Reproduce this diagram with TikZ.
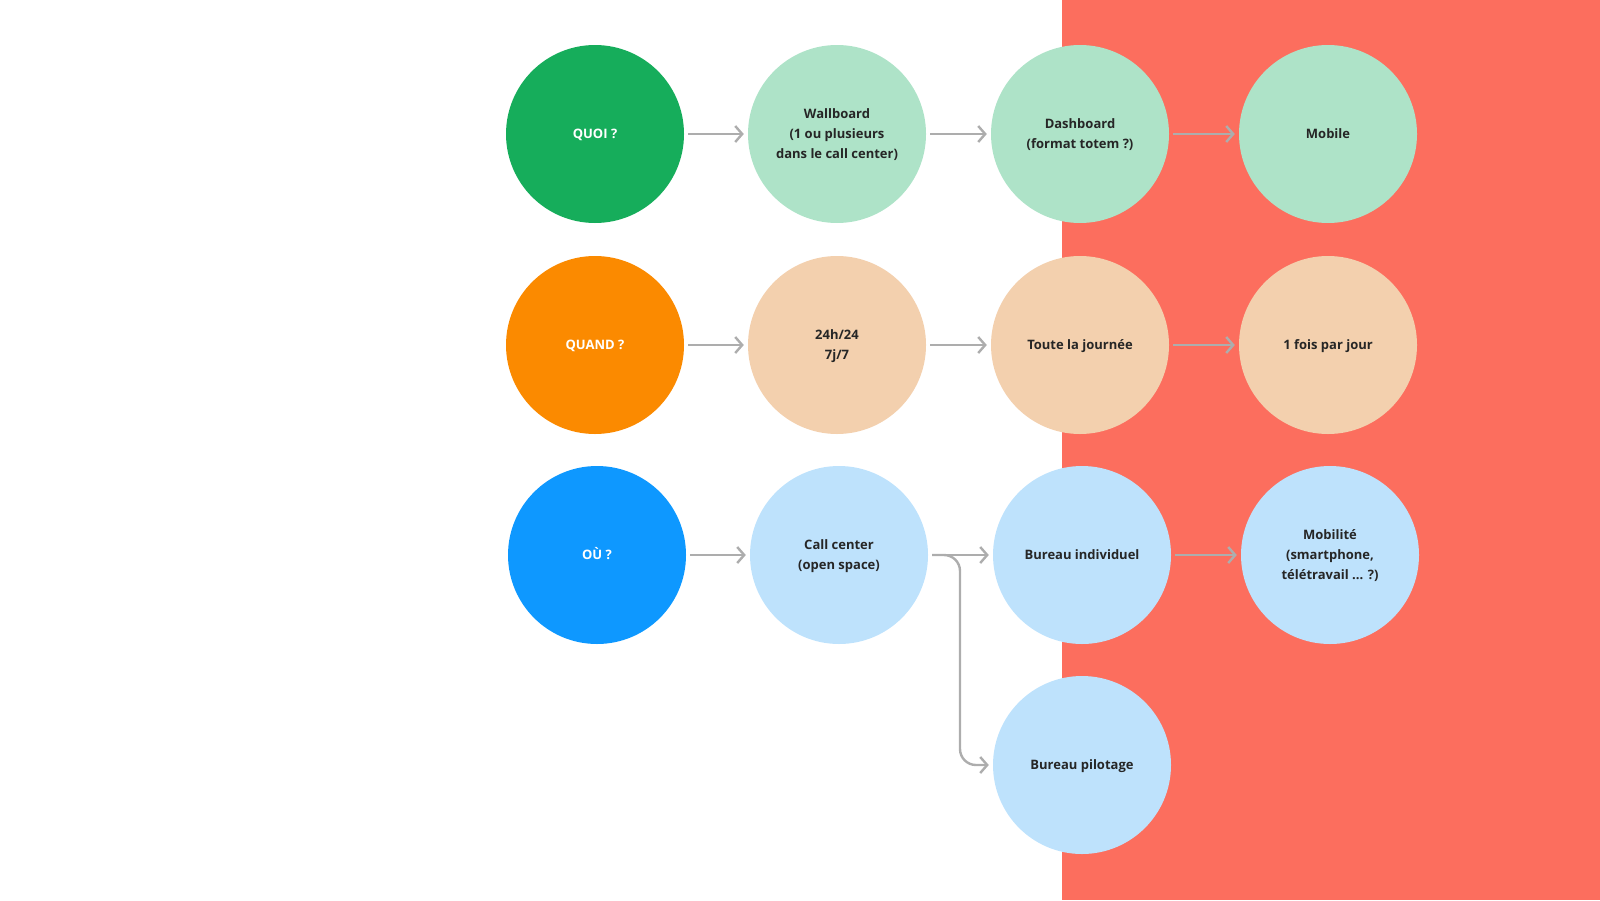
\documentclass[tikz,border=0pt]{standalone}
\usepackage{fontspec}
\setmainfont{Open Sans}
\usetikzlibrary{arrows.meta}
\definecolor{bgred}{HTML}{FC6E5E}
\definecolor{dgreen}{HTML}{16AD5B}
\definecolor{lgreen}{HTML}{AEE3C8}
\definecolor{dorange}{HTML}{FB8A00}
\definecolor{lpeach}{HTML}{F3D0AE}
\definecolor{dblue}{HTML}{0E98FF}
\definecolor{lblue}{HTML}{BEE2FC}
\definecolor{txt}{HTML}{262626}
\definecolor{arrgray}{HTML}{ADADAD}
\tikzset{
  x=1pt, y=-1pt,
  bubble/.style={circle, minimum size=178pt, inner sep=0pt, align=center,
    font=\fontsize{13}{20}\selectfont\bfseries, text=txt},
  headbubble/.style={bubble, text=white},
  arr/.style={draw=arrgray, line width=2.4pt, shorten <=4pt, shorten >=4pt,
    -{Straight Barb[length=7pt,width=16pt,line width=2.4pt]}},
}
\newcommand{\dn}[1]{\raisebox{-2pt}{\begin{tabular}{@{}c@{}}#1\end{tabular}}}
\begin{document}
\begin{tikzpicture}
\useasboundingbox (0,0) rectangle (1600,900);
\fill[bgred] (1062,0) rectangle (1600,900);
\renewcommand{\arraystretch}{1}
% row 1
\node[headbubble, fill=dgreen] (quoi) at (595,134) {\dn{QUOI ?}};
\node[bubble, fill=lgreen] (wall) at (837,134) {\dn{Wallboard\\(1 ou plusieurs\\dans le call center)}};
\node[bubble, fill=lgreen] (dash) at (1080,134) {\dn{Dashboard\\(format totem ?)}};
\node[bubble, fill=lgreen] (mob) at (1328,134) {\dn{Mobile}};
% row 2
\node[headbubble, fill=dorange] (quand) at (595,345) {\dn{QUAND ?}};
\node[bubble, fill=lpeach] (h24) at (837,345) {\dn{24h/24\\7j/7}};
\node[bubble, fill=lpeach] (toute) at (1080,345) {\dn{Toute la journée}};
\node[bubble, fill=lpeach] (fois) at (1328,345) {\dn{1 fois par jour}};
% row 3
\node[headbubble, fill=dblue] (ou) at (597,555) {\dn{OÙ ?}};
\node[bubble, fill=lblue] (cc) at (839,555) {\dn{Call center\\(open space)}};
\node[bubble, fill=lblue] (bi) at (1082,555) {\dn{Bureau individuel}};
\node[bubble, fill=lblue] (mobi) at (1330,555) {\dn{Mobilité\\(smartphone,\\télétravail ... ?)}};
% row 4
\node[bubble, fill=lblue] (bp) at (1082,765) {\dn{Bureau pilotage}};
\coordinate (bend) at (960,555);
% arrows
\draw[arr] (quoi) -- (wall);
\draw[arr] (wall) -- (dash);
\draw[arr] (dash) -- (mob);
\draw[arr] (quand) -- (h24);
\draw[arr] (h24) -- (toute);
\draw[arr] (toute) -- (fois);
\draw[arr] (ou) -- (cc);
\draw[arr] (cc) -- (bi);
\draw[arr] (bi) -- (mobi);
\draw[arr, rounded corners=16pt] (cc.east) -- (bend) |- (bp.west);
\end{tikzpicture}
\end{document}
